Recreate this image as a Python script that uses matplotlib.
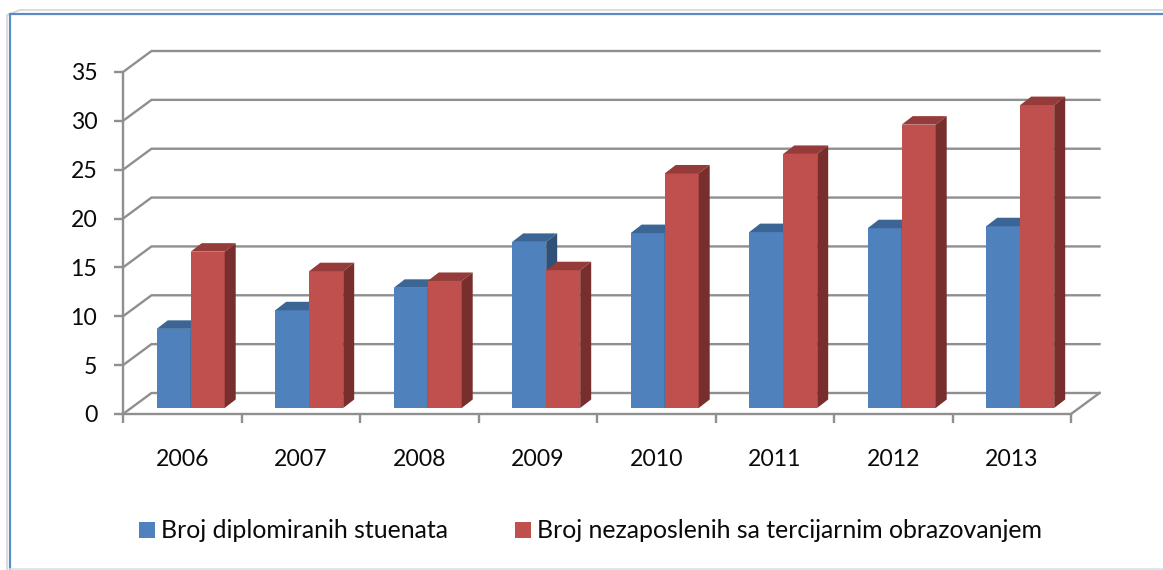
import matplotlib
matplotlib.use('Agg')
import matplotlib.pyplot as plt
from matplotlib.lines import Line2D
from matplotlib.patches import Patch, Polygon

years = ['2006', '2007', '2008', '2009', '2010', '2011', '2012', '2013']
diplomirani = [8.1, 10, 12.3, 17, 17.9, 18, 18.4, 18.6]
nezaposleni = [16, 14, 13, 14.1, 24, 26, 29, 31]
y_ticks = [0, 5, 10, 15, 20, 25, 30, 35]
labels = ['Broj diplomiranih stuenata', 'Broj nezaposlenih sa tercijarnim obrazovanjem']

W, H = 1163, 570
GRID = '#8f8f8f'
BLUE = ('#4f81bd', '#3b6595', '#2f5077')
RED = ('#c0504d', '#953c3a', '#772e2c')

plt.rcParams['font.family'] = ['Lato', 'DejaVu Sans']

fig = plt.figure(figsize=(W / 100, H / 100), dpi=100)
ax = fig.add_axes([123 / W, (H - 414) / H, (1071 - 123) / W, (414 - 72) / H])
ax.set_xlim(0, len(years))
ax.set_ylim(0, y_ticks[-1])

# pixel sizes turned into data units
px_x = len(years) / (1071 - 123)
px_y = y_ticks[-1] / (414 - 72)
wall_dx, wall_dy = 28.5 * px_x, 21 * px_y
depth_dx, depth_dy = 11 * px_x, 8.5 * px_y
base = 6 * px_y
bar_w = 34 * px_x
bar_start = 33.7 * px_x


def draw_bar(x, value, colors):
    top = base + value
    ax.bar(x, value, bar_w, bottom=base, align='edge', color=colors[0],
           linewidth=0, zorder=3, clip_on=False)
    ax.add_patch(Polygon([(x, top), (x + bar_w, top),
                          (x + bar_w + depth_dx, top + depth_dy), (x + depth_dx, top + depth_dy)],
                         closed=True, fc=colors[1], lw=0, zorder=3, clip_on=False))
    ax.add_patch(Polygon([(x + bar_w, base), (x + bar_w + depth_dx, base + depth_dy),
                          (x + bar_w + depth_dx, top + depth_dy), (x + bar_w, top)],
                         closed=True, fc=colors[2], lw=0, zorder=3, clip_on=False))


# back wall gridlines and floor
for v in y_ticks:
    ax.plot([0, wall_dx, len(years) + wall_dx], [v, v + wall_dy, v + wall_dy],
            color=GRID, lw=1.7, zorder=1, clip_on=False, solid_joinstyle='miter')
ax.plot([len(years), len(years) + wall_dx], [0, wall_dy], color=GRID, lw=1.7, zorder=1, clip_on=False)

for i in range(len(years)):
    draw_bar(i + bar_start, diplomirani[i], BLUE)
    draw_bar(i + bar_start + bar_w, nezaposleni[i], RED)

for name, spine in ax.spines.items():
    if name in ('top', 'right'):
        spine.set_visible(False)
    else:
        spine.set_color(GRID)
        spine.set_linewidth(1.7)
ax.patch.set_visible(False)

ax.set_yticks(y_ticks)
ax.tick_params(axis='y', length=6.5, width=1.7, color=GRID, labelsize=16.6, pad=12, labelcolor='#0a0a0a')
ax.set_xticks(range(len(years) + 1))
ax.set_xticklabels([])
ax.tick_params(axis='x', which='major', length=6.5, width=1.7, color=GRID)
ax.set_xticks([i + 0.5 for i in range(len(years))], minor=True)
ax.set_xticklabels(years, minor=True)
ax.tick_params(axis='x', which='minor', length=0, labelsize=16.6, pad=25, labelcolor='#0a0a0a')

fig.legend(handles=[Patch(fc=BLUE[0], label=labels[0]), Patch(fc=RED[0], label=labels[1])],
           ncol=2, frameon=False, fontsize=17.9, labelcolor='#0a0a0a',
           loc='center left', bbox_to_anchor=(139 / W, (H - 531) / H),
           handlelength=0.63, handleheight=0.63, handletextpad=0.25, columnspacing=2.7,
           borderpad=0, borderaxespad=0)

# chart frame
fig.add_artist(Line2D([7 / W, 7 / W, 20 / W, 1], [0, (H - 15) / H, (H - 10) / H, (H - 10) / H],
                      color='#d4d4d4', lw=1.2))
fig.add_artist(Line2D([9.5 / W, 9.5 / W, 1], [0, (H - 13.5) / H, (H - 13.5) / H],
                      color='#5b8ac6', lw=1.6, solid_joinstyle='miter'))
fig.add_artist(Line2D([9.5 / W, 1], [(H - 568.5) / H, (H - 568.5) / H], color='#d5e1f0', lw=1.2))

fig.savefig('out.png', dpi=100)
